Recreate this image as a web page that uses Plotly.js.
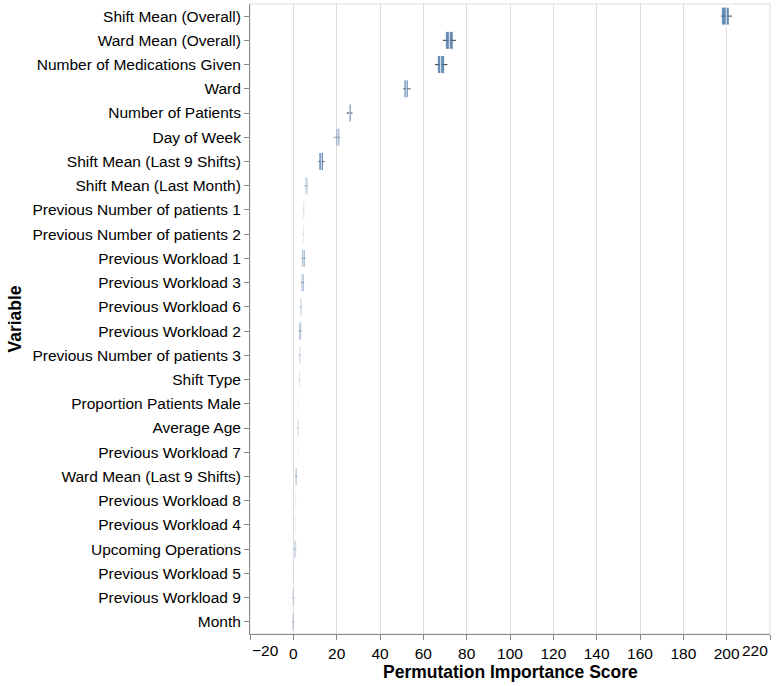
<!DOCTYPE html>
<html>
<head>
<meta charset="utf-8">
<script src="https://cdn.plot.ly/plotly-3.0.1.min.js"></script>
<style>
html,body{margin:0;padding:0;background:#fff;}
#chart{width:778px;height:686px;}
</style>
</head>
<body>
<div id="chart"></div>
<script>
// ---- data ----
const variables = [
  "Shift Mean (Overall)", "Ward Mean (Overall)", "Number of Medications Given", "Ward",
  "Number of Patients", "Day of Week", "Shift Mean (Last 9 Shifts)", "Shift Mean (Last Month)",
  "Previous Number of patients 1", "Previous Number of patients 2", "Previous Workload 1",
  "Previous Workload 3", "Previous Workload 6", "Previous Workload 2",
  "Previous Number of patients 3", "Shift Type", "Proportion Patients Male", "Average Age",
  "Previous Workload 7", "Ward Mean (Last 9 Shifts)", "Previous Workload 8",
  "Previous Workload 4", "Upcoming Operations", "Previous Workload 5", "Previous Workload 9", "Month"
];
const minVals    = [197.4, 69.0, 65.4, 50.7, 24.7, 18.5, 11.6, 5.1, 4.4, 4.3, 3.8, 3.5, 3.0, 2.5, 2.4, 2.5, 2.1, 1.7, 1.9, 0.7, 0.7, 0.5, 0.2, -0.3, -0.6, -0.7];
const q1Vals     = [197.8, 70.4, 66.7, 51.2, 25.7, 19.8, 12.0, 5.5, 4.6, 4.5, 4.1, 3.8, 3.2, 2.7, 2.6, 2.7, 2.2, 1.9, 2.0, 0.9, 0.8, 0.6, 0.4, -0.2, -0.4, -0.5];
const medianVals = [199.8, 72.0, 68.0, 52.1, 26.1, 20.4, 12.9, 6.0, 4.8, 4.6, 4.7, 4.2, 3.5, 3.1, 2.9, 2.8, 2.3, 2.2, 2.2, 1.1, 1.1, 0.9, 0.8, -0.1, 0.0, -0.3];
const q3Vals     = [201.0, 73.6, 69.6, 52.9, 26.6, 21.3, 13.7, 6.6, 5.0, 4.8, 5.3, 4.8, 3.9, 3.6, 3.3, 3.1, 2.5, 2.5, 2.3, 1.6, 1.3, 1.1, 1.3, 0.0, 0.4, 0.2];
const maxVals    = [202.4, 75.1, 71.1, 54.2, 27.3, 21.6, 14.3, 6.9, 5.2, 5.0, 5.5, 5.0, 4.1, 3.8, 3.5, 3.2, 2.6, 2.7, 2.5, 1.8, 1.5, 1.3, 1.5, 0.1, 0.6, 0.4];
const xTickValues = [-20, 0, 20, 40, 60, 80, 100, 120, 140, 160, 180, 200, 220];
const xTitle = "Permutation Importance Score";
const yTitle = "Variable";

// ---- styles ----
const markOpacity = [0.85, 0.85, 0.85, 0.7, 0.9, 0.45, 0.85, 0.35, 0.25, 0.25, 0.55, 0.55, 0.3, 0.6, 0.25, 0.25, 0.1, 0.25, 0.12, 0.45, 0.12, 0.12, 0.3, 0.08, 0.2, 0.3];
const FONT = "Liberation Sans, Arial, Helvetica, sans-serif";
const AXIS_GREY = "#888";
const labelFont = {family: FONT, size: 15.5, color: "#000"};
const titleFont = {family: FONT, size: 17.5, color: "#000", weight: "bold"};

const traces = [
  { // whiskers (drawn first, under the boxes)
    type: "bar", orientation: "h",
    y: variables,
    base: minVals,
    x: maxVals.map((m, i) => m - minVals[i]),
    width: 0.045,
    marker: {color: markOpacity.map(o => `rgba(40,40,40,${o})`), line: {width: 0}},
    showlegend: false, hoverinfo: "skip"
  },
  { // boxes q1..q3
    type: "bar", orientation: "h",
    y: variables,
    base: q1Vals,
    x: q3Vals.map((q, i) => q - q1Vals[i]),
    width: 0.7,
    marker: {color: markOpacity.map(o => `rgba(76,120,168,${o})`), line: {width: 0}},
    showlegend: false, hoverinfo: "skip"
  },
  { // median ticks
    type: "scatter", mode: "markers",
    x: medianVals, y: variables,
    marker: {symbol: "line-ns", size: 17, color: "#fff",
             line: {color: markOpacity.map(o => `rgba(255,255,255,${o})`), width: 1}},
    showlegend: false, hoverinfo: "skip"
  }
];

const fmt = v => (v < 0 ? "\u2212" + Math.abs(v) : String(v));

const layout = {
  width: 778, height: 686,
  margin: {l: 250, r: 8, t: 4, b: 52, pad: 0},
  paper_bgcolor: "#fff", plot_bgcolor: "#fff",
  font: labelFont,
  showlegend: false,
  barmode: "overlay",
  xaxis: {
    range: [-20, 220],
    tickmode: "array",
    tickvals: xTickValues,
    ticktext: xTickValues.map((v, i) => (i === 0 || i === xTickValues.length - 1) ? "" : fmt(v)),
    showgrid: true, gridcolor: "#ddd", gridwidth: 1,
    zeroline: false,
    showline: true, linecolor: AXIS_GREY, linewidth: 1,
    ticks: "outside", ticklen: 5, tickcolor: AXIS_GREY, tickwidth: 1,
    tickfont: labelFont,
    title: {text: ""},
    automargin: false, fixedrange: true
  },
  yaxis: {
    type: "category",
    categoryorder: "array", categoryarray: variables,
    range: [variables.length - 0.5, -0.5],
    autorange: false,
    showgrid: false, zeroline: false,
    showline: true, linecolor: AXIS_GREY, linewidth: 1,
    ticks: "outside", ticklen: 5, tickcolor: AXIS_GREY, tickwidth: 1,
    tickfont: labelFont,
    title: {text: yTitle, font: titleFont, standoff: 6},
    automargin: false, fixedrange: true
  },
  shapes: [{
    type: "rect", xref: "paper", yref: "paper", x0: 0, x1: 1, y0: 0, y1: 1,
    line: {color: "#ddd", width: 1}, layer: "below"
  }],
  annotations: [
    {xref: "x", yref: "paper", x: xTickValues[0], y: 0, xanchor: "left", yanchor: "top",
     yshift: -6, text: fmt(xTickValues[0]), showarrow: false, font: labelFont},
    {xref: "x", yref: "paper", x: xTickValues[xTickValues.length - 1], y: 0, xanchor: "right", yanchor: "top",
     yshift: -6, text: fmt(xTickValues[xTickValues.length - 1]), showarrow: false, font: labelFont},
    {xref: "paper", yref: "paper", x: 0.5, y: 0, xanchor: "center", yanchor: "middle",
     yshift: -38, text: xTitle, showarrow: false, font: titleFont}
  ]
};

Plotly.newPlot("chart", traces, layout, {displayModeBar: false, staticPlot: true});
</script>
</body>
</html>
